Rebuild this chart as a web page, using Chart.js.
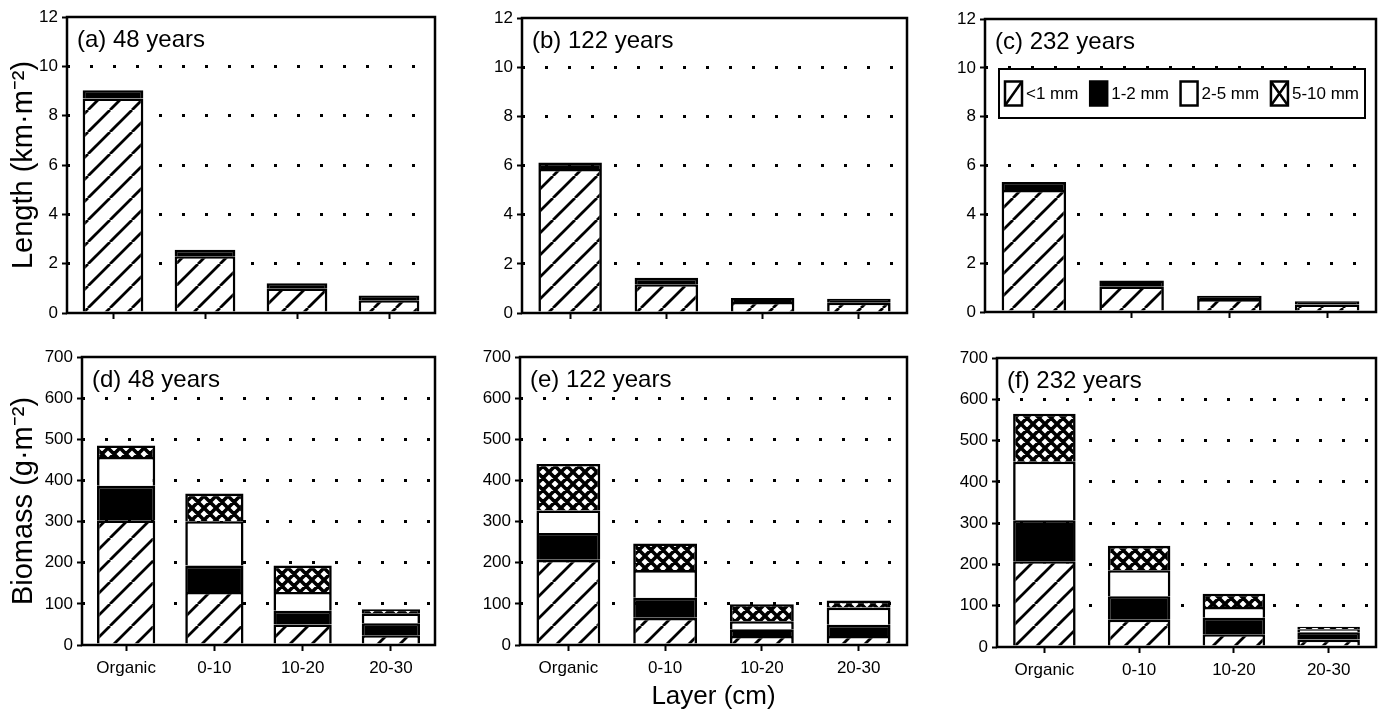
<!DOCTYPE html>
<html>
<head>
<meta charset="utf-8">
<script src="https://cdn.jsdelivr.net/npm/chart.js@4.4.1/dist/chart.umd.min.js"></script>
<style>
html, body { margin: 0; padding: 0; background: #fff; }
#wrap { position: relative; width: 1385px; height: 714px; overflow: hidden; background: #fff; }
.panel { position: absolute; }
.panel canvas { display: block; }
</style>
</head>
<body>
<div id="wrap"></div>
<script>
// ---------------- data ----------------
const layers = ['Organic', '0-10', '10-20', '20-30'];
const sizeClasses = ['<1 mm', '1-2 mm', '2-5 mm', '5-10 mm'];
const panelLabels = ['(a) 48 years', '(b) 122 years', '(c) 232 years',
                     '(d) 48 years', '(e) 122 years', '(f) 232 years'];
const lengthTitle = 'Length (km·m⁻²)';
const biomassTitle = 'Biomass (g·m⁻²)';
const layerTitle = 'Layer (cm)';
const lengthMax = 12, lengthStep = 2;
const biomassMax = 700, biomassStep = 100;

// Root length (km m-2), by layer
const len48_lt1  = [8.70, 2.30, 1.00, 0.52];
const len48_1to2 = [0.33, 0.26, 0.21, 0.19];
const len122_lt1  = [5.86, 1.17, 0.45, 0.42];
const len122_1to2 = [0.26, 0.26, 0.16, 0.16];
const len232_lt1  = [5.00, 1.05, 0.53, 0.31];
const len232_1to2 = [0.32, 0.24, 0.14, 0.13];

// Root biomass (g m-2), by layer
const bio48_lt1   = [303, 129, 50, 24];
const bio48_1to2  = [84, 64, 33, 29];
const bio48_2to5  = [70, 108, 46, 24];
const bio48_5to10 = [28, 67, 64, 10];
const bio122_lt1   = [207, 66, 22, 22];
const bio122_1to2  = [65, 49, 16, 27];
const bio122_2to5  = [55, 67, 20, 42];
const bio122_5to10 = [113, 65, 41, 17];
const bio232_lt1   = [208, 66, 31, 18];
const bio232_1to2  = [99, 57, 40, 18];
const bio232_2to5  = [142, 63, 26, 7];
const bio232_5to10 = [116, 59, 32, 6];

// ---------------- fonts ----------------
function fontAvailable(name) {
  const c = document.createElement('canvas').getContext('2d');
  const probe = 'mmmmmmmmmmlliWW0123456789';
  c.font = '40px monospace';
  const w1 = c.measureText(probe).width;
  c.font = '40px "' + name + '", monospace';
  const w2 = c.measureText(probe).width;
  return Math.abs(w1 - w2) > 0.5;
}
const HAS_NARROW = fontAvailable('Liberation Sans Narrow');
const SANS = '"Liberation Sans", Arial, Helvetica, sans-serif';
const NARROW = HAS_NARROW ? '"Liberation Sans Narrow", ' + SANS : SANS;
const yTickSize = HAS_NARROW ? 20 : 17;
const xTickSize = HAS_NARROW ? 20 : 17;
const legendSize = HAS_NARROW ? 21 : 17;

Chart.defaults.font.family = SANS;
Chart.defaults.color = '#000';

// ---------------- patterns ----------------
function hatchPattern(ctx) {
  const s = 22;
  const c = document.createElement('canvas');
  c.width = s; c.height = s;
  const g = c.getContext('2d');
  g.fillStyle = '#fff'; g.fillRect(0, 0, s, s);
  g.strokeStyle = '#000'; g.lineWidth = 2.8;
  g.beginPath();
  for (let k = -1; k <= 1; k++) { g.moveTo(k * s, s); g.lineTo(k * s + s, 0); }
  g.stroke();
  return ctx.createPattern(c, 'repeat');
}
function crossPattern(ctx) {
  const s = 12;
  const c = document.createElement('canvas');
  c.width = s; c.height = s;
  const g = c.getContext('2d');
  g.fillStyle = '#fff'; g.fillRect(0, 0, s, s);
  g.strokeStyle = '#000'; g.lineWidth = 3.6;
  g.beginPath();
  for (let k = -1; k <= 1; k++) {
    g.moveTo(k * s, s); g.lineTo(k * s + s, 0);
    g.moveTo(k * s, 0); g.lineTo(k * s + s, s);
  }
  g.stroke();
  return ctx.createPattern(c, 'repeat');
}

// ---------------- plugins ----------------
const framePlugin = {
  id: 'frame',
  afterDatasetsDraw(chart) {
    const a = chart.chartArea, ctx = chart.ctx;
    ctx.save();
    ctx.strokeStyle = '#000'; ctx.lineWidth = 2.5;
    ctx.strokeRect(a.left, a.top, a.right - a.left, a.bottom - a.top);
    ctx.restore();
  }
};
const panelTextPlugin = {
  id: 'panelText',
  afterDraw(chart, args, o) {
    if (!o || !o.text) return;
    const a = chart.chartArea, ctx = chart.ctx;
    ctx.save();
    ctx.font = '24px ' + SANS;
    ctx.fillStyle = '#000';
    ctx.textBaseline = 'alphabetic';
    ctx.textAlign = 'left';
    ctx.fillText(o.text, a.left + 10, a.top + 30);
    ctx.restore();
  }
};
const boxLegendPlugin = {
  id: 'boxLegend',
  afterDraw(chart, args, o) {
    if (!o || !o.show) return;
    const a = chart.chartArea, ctx = chart.ctx;
    const x0 = a.left + 14, y0 = a.top + 50, w = 366, h = 49;
    ctx.save();
    ctx.fillStyle = '#fff';
    ctx.fillRect(x0, y0, w, h);
    ctx.strokeStyle = '#000'; ctx.lineWidth = 2;
    ctx.strokeRect(x0, y0, w, h);
    ctx.font = legendSize + 'px ' + NARROW;
    ctx.textBaseline = 'middle';
    ctx.fillStyle = '#000';
    const sw = 17, sh = 24, sg = 4;
    const widths = sizeClasses.map(t => ctx.measureText(t).width);
    const used = widths.reduce((s, v) => s + v + sw + sg, 0);
    const gap = (w - 12 - used) / (sizeClasses.length - 1);
    let x = x0 + 6;
    const cy = y0 + h / 2;
    sizeClasses.forEach((label, i) => {
      const sx = x, sy = cy - sh / 2;
      ctx.fillStyle = i === 1 ? '#000' : '#fff';
      ctx.fillRect(sx, sy, sw, sh);
      ctx.strokeStyle = '#000'; ctx.lineWidth = 2.5;
      ctx.beginPath();
      if (i === 0) { ctx.moveTo(sx, sy + sh); ctx.lineTo(sx + sw, sy); }
      if (i === 3) {
        ctx.moveTo(sx, sy + sh); ctx.lineTo(sx + sw, sy);
        ctx.moveTo(sx, sy); ctx.lineTo(sx + sw, sy + sh);
      }
      ctx.stroke();
      ctx.strokeRect(sx, sy, sw, sh);
      ctx.fillStyle = '#000';
      ctx.fillText(label, sx + sw + sg, cy + 1);
      x = sx + sw + sg + widths[i] + gap;
    });
    ctx.restore();
  }
};

// ---------------- layout (positions only) ----------------
const panelBoxes = [
  { left: 0,   top: 0,   w: 440, h: 330, yW: 67, padT: 17, padR: 5, xH: 17 },
  { left: 465, top: 0,   w: 450, h: 330, yW: 57, padT: 18, padR: 8, xH: 17 },
  { left: 925, top: 0,   w: 460, h: 330, yW: 60, padT: 19, padR: 9, xH: 18 },
  { left: 0,   top: 340, w: 440, h: 374, yW: 82, padT: 17, padR: 5, xH: 69 },
  { left: 465, top: 340, w: 450, h: 374, yW: 55, padT: 17, padR: 8, xH: 69 },
  { left: 925, top: 340, w: 460, h: 374, yW: 72, padT: 18, padR: 9, xH: 67 }
];

const panelSeries = [
  [len48_lt1, len48_1to2],
  [len122_lt1, len122_1to2],
  [len232_lt1, len232_1to2],
  [bio48_lt1, bio48_1to2, bio48_2to5, bio48_5to10],
  [bio122_lt1, bio122_1to2, bio122_2to5, bio122_5to10],
  [bio232_lt1, bio232_1to2, bio232_2to5, bio232_5to10]
];

const wrap = document.getElementById('wrap');

panelBoxes.forEach((box, idx) => {
  const div = document.createElement('div');
  div.className = 'panel';
  div.style.left = box.left + 'px'; div.style.top = box.top + 'px';
  div.style.width = box.w + 'px'; div.style.height = box.h + 'px';
  const cv = document.createElement('canvas');
  cv.width = box.w; cv.height = box.h;
  cv.style.width = box.w + 'px'; cv.style.height = box.h + 'px';
  div.appendChild(cv);
  wrap.appendChild(div);
  const ctx = cv.getContext('2d');

  const isBio = idx >= 3;
  const yMax = isBio ? biomassMax : lengthMax;
  const yStep = isBio ? biomassStep : lengthStep;
  const fills = [hatchPattern(ctx), '#000', '#fff', crossPattern(ctx)];

  const datasets = panelSeries[idx].map((vals, i) => ({
    label: sizeClasses[i],
    data: vals,
    backgroundColor: fills[i],
    borderColor: '#000',
    borderWidth: 2.6,
    borderSkipped: 'start',
    barPercentage: 0.66,
    categoryPercentage: 1.0
  }));

  const showYTitle = (idx === 0 || idx === 3);
  const showXTitle = (idx === 4);

  new Chart(ctx, {
    type: 'bar',
    data: { labels: layers, datasets },
    options: {
      responsive: false,
      animation: false,
      devicePixelRatio: 1,
      layout: { padding: { top: box.padT, right: box.padR, left: 0, bottom: 0 } },
      plugins: {
        legend: { display: false },
        tooltip: { enabled: false },
        panelText: { text: panelLabels[idx] },
        boxLegend: { show: idx === 2 }
      },
      scales: {
        x: {
          stacked: true,
          offset: true,
          grid: {
            offset: false, drawOnChartArea: false, drawTicks: true,
            tickLength: 6, tickWidth: 2, tickColor: '#000', color: '#000'
          },
          border: { display: false },
          ticks: {
            display: isBio, color: '#000', padding: 7,
            maxRotation: 0, autoSkip: false,
            font: { family: NARROW, size: xTickSize }
          },
          title: {
            display: showXTitle, text: layerTitle, color: '#000',
            font: { family: SANS, size: 26 }, padding: { top: 0, bottom: 2 }
          },
          afterFit: (s) => { s.height = box.xH; }
        },
        y: {
          stacked: true,
          min: 0, max: yMax,
          ticks: {
            stepSize: yStep, color: '#000', padding: 4,
            font: { family: NARROW, size: yTickSize }
          },
          grid: {
            color: (c) => (c.tick && (c.tick.value === 0 || c.tick.value === yMax)) ? 'rgba(0,0,0,0)' : '#000',
            lineWidth: 3,
            drawTicks: true, tickLength: 5, tickWidth: 2, tickColor: '#000',
            borderDash: [3, 20]
          },
          border: { display: false, dash: [3, 20] },
          title: {
            display: showYTitle, text: isBio ? biomassTitle : lengthTitle, color: '#000',
            font: { family: SANS, size: 29 }, padding: { top: 7, bottom: 0 }
          },
          afterFit: (s) => { s.width = box.yW; }
        }
      }
    },
    plugins: [framePlugin, panelTextPlugin, boxLegendPlugin]
  });
});
</script>
</body>
</html>
